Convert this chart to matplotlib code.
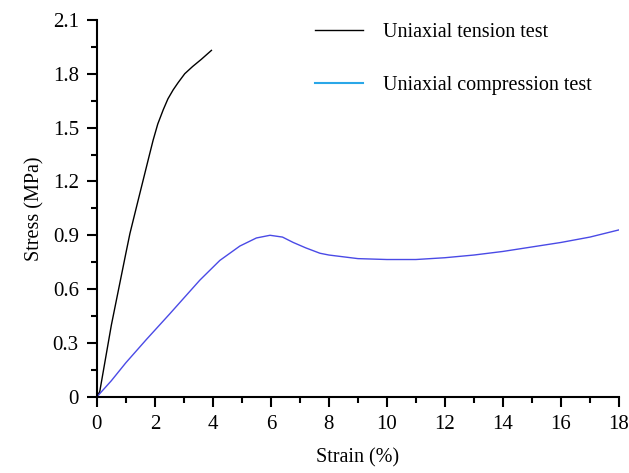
import numpy as np
import matplotlib.pyplot as plt
from matplotlib.lines import Line2D
from matplotlib.ticker import MultipleLocator

plt.rcParams['font.family'] = ['Liberation Serif', 'DejaVu Serif']

# Uniaxial tension test (strain %, stress MPa)
tension_strain = [0, 0.1, 0.5, 1.0, 1.14, 1.4, 1.6, 1.8, 1.94, 2.1, 2.29, 2.45, 2.63, 2.8, 3.03, 3.3, 3.6, 3.95]
tension_stress = [0, 0.03, 0.4, 0.8, 0.91, 1.08, 1.21, 1.34, 1.43, 1.52, 1.60, 1.66, 1.71, 1.75, 1.80, 1.84, 1.88, 1.93]

# Uniaxial compression test
comp_strain = [0, 0.5, 1.0, 1.71, 2.5, 3.55, 4.24, 4.93, 5.5, 5.97, 6.4, 6.77, 7.2, 7.69, 8, 9, 10, 11, 12, 13, 14, 15, 16, 17, 18]
comp_stress = [0, 0.09, 0.19, 0.32, 0.46, 0.65, 0.76, 0.84, 0.885, 0.90, 0.89, 0.86, 0.83, 0.80, 0.79, 0.77, 0.765, 0.765, 0.775, 0.79, 0.81, 0.835, 0.86, 0.89, 0.93]

y_ticks = [0, 0.3, 0.6, 0.9, 1.2, 1.5, 1.8, 2.1]
y_labels = ['0', '0.3', '0.6', '0.9', '1.2', '1.5', '1.8', '2.1']

fig = plt.figure(figsize=(6.29, 4.73), dpi=100)
ax = fig.add_axes([0.154, 0.161, 0.830, 0.797])

ax.plot(tension_strain, tension_stress, color='black', lw=1.0)
ax.plot(comp_strain, comp_stress, color='#4a4ae6', lw=1.0)

ax.set_xlim(0, 18)
ax.set_ylim(0, 2.1)
ax.xaxis.set_major_locator(MultipleLocator(2))
ax.xaxis.set_minor_locator(MultipleLocator(1))
ax.set_yticks(y_ticks)
ax.set_yticklabels(y_labels)
ax.yaxis.set_minor_locator(MultipleLocator(0.15))

for s in ['top', 'right']:
    ax.spines[s].set_visible(False)
for s in ['left', 'bottom']:
    ax.spines[s].set_linewidth(1.5)
ax.tick_params(which='major', direction='out', length=7, width=1.5, labelsize=15, pad=6)
ax.tick_params(which='minor', direction='out', length=4, width=1.5)
ax.set_xlabel('Strain (%)', fontsize=14.5, labelpad=10)
ax.set_ylabel('Stress (MPa)', fontsize=14.5, labelpad=6)

handles = [Line2D([], [], color='black', lw=1.0),
           Line2D([], [], color='#2aa7e8', lw=1.5)]
ax.legend(handles, ['Uniaxial tension test', 'Uniaxial compression test'],
          loc='upper left', bbox_to_anchor=(0.383, 1.041), frameon=False,
          fontsize=14.5, handlelength=2.4, handletextpad=1.0, labelspacing=1.7)

fig.savefig('out.png', dpi=100)
